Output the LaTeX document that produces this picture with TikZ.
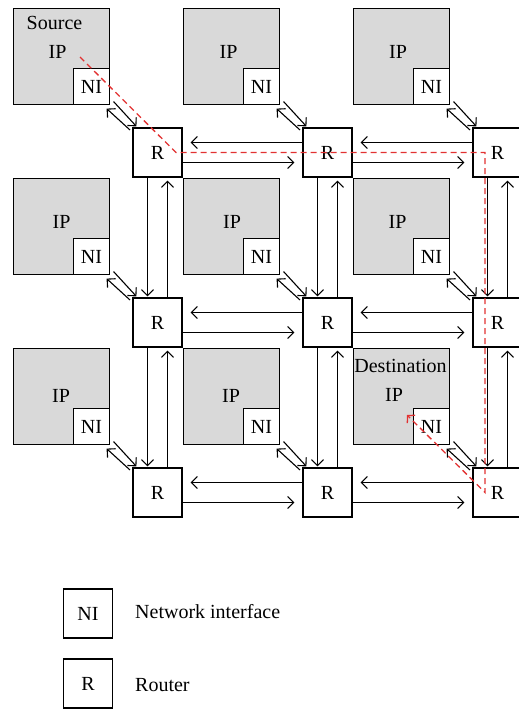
\documentclass[tikz,border=0pt]{standalone}
\usepackage{fontspec}
\setmainfont{Liberation Serif}
\usetikzlibrary{arrows.meta,calc}
\definecolor{ipgray}{RGB}{217,217,217}
\definecolor{routecol}{RGB}{226,50,50}
\begin{document}
\begin{tikzpicture}[x=1pt,y=-1pt,
  font=\fontsize{20}{24}\selectfont,
  ipbox/.style={draw, fill=ipgray, line width=1.2pt, minimum size=96pt, inner sep=0pt},
  nibox/.style={draw, fill=white, line width=1.2pt, minimum size=36pt, inner sep=0pt},
  router/.style={draw, fill=white, line width=1.2pt, minimum size=49pt, inner sep=0pt},
  lbl/.style={inner sep=0pt},
  link/.style={line width=1.1pt, -{Straight Barb[length=6pt,width=12pt]}},
  route/.style={draw=routecol, line width=1.3pt, dash pattern=on 6pt off 4pt,
                -{Straight Barb[length=5pt,width=11pt]}}
]
\useasboundingbox (0,0) rectangle (519,709);
\clip (0,0) rectangle (519,709);

% 3x3 mesh: IP core with its network interface, and a router per tile
\foreach \i in {0,1,2}{
  \foreach \j in {0,1,2}{
    \node[ipbox] (ip-\i-\j) at ({61.5+170*\i},{56.5+170*\j}) {};
    \node[nibox, anchor=south east] (ni-\i-\j) at (ip-\i-\j.south east) {NI};
    \node[router] (r-\i-\j) at ({157.5+170*\i},{152.5+170*\j}) {R};
  }
}

% core labels
\foreach \i/\j/\dx/\dy in {0/0/-4/-4.5, 1/0/-3/-4.5, 2/0/-3.5/-4.5,
                           0/1/0/-4.5, 1/1/0.5/-4.5, 2/1/-4/-4.5,
                           0/2/-0.5/-0.5, 1/2/-0.5/-0.5, 2/2/-7.5/-1.5}{
  \node[lbl] (ipl-\i-\j) at ($(ip-\i-\j)+(\dx,\dy)$) {IP};
}
\node[lbl] (srclabel) at ($(ip-0-0)+(-7,-33.5)$) {Source};
\node[lbl] (dstlabel) at ($(ip-2-2)+(-1,-30.5)$) {Destination};

% horizontal router links
\foreach \j in {0,1,2}{
  \foreach \i/\k in {0/1,1/2}{
    \draw[link, shorten >=8pt] ([yshift=10pt]r-\k-\j.west) -- ([yshift=10pt]r-\i-\j.east);
    \draw[link, shorten >=8pt] ([yshift=-10pt]r-\i-\j.east) -- ([yshift=-10pt]r-\k-\j.west);
  }
}

% vertical router links
\foreach \i in {0,1,2}{
  \foreach \j/\k in {0/1,1/2}{
    \draw[link, shorten >=1pt] ([xshift=-10pt]r-\i-\j.south) -- ([xshift=-10pt]r-\i-\k.north);
    \draw[link, shorten >=3pt] ([xshift=10pt]r-\i-\k.north) -- ([xshift=10pt]r-\i-\j.south);
  }
}

% network interface <-> router links
\foreach \i in {0,1,2}{
  \foreach \j in {0,1,2}{
    \draw[link] ([shift={(-2.5pt,-2.5pt)}]r-\i-\j.north west) -- ([shift={(-3.5pt,-3.5pt)}]ni-\i-\j.south east);
    \draw[link] ([shift={(3.5pt,3.5pt)}]ni-\i-\j.south east) -- ([shift={(4pt,1pt)}]r-\i-\j.north west);
  }
}

% packet route from source to destination
\coordinate (src) at (80,57);
\coordinate (dst) at (407,415);
\draw[route] (src) -- ($(r-0-0)+(18.5,0)$) -- ($(r-2-0)+(-12.5,0)$)
  -- ($(r-2-2)+(-12.5,0)$) -- (dst);

% key
\node[router] (key-ni) at (88,613.5) {NI};
\node[router] (key-r) at (88,683.5) {R};
\node[lbl, anchor=west] (key-ni-text) at (135,612) {Network interface};
\node[lbl, anchor=west] (key-r-text) at (135,685) {Router};
\end{tikzpicture}
\end{document}
